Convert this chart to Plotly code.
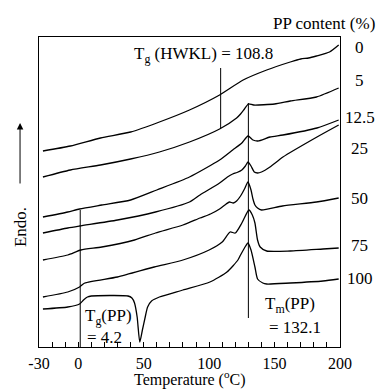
import plotly.graph_objects as go

# ---------------- data ----------------
pp_content = ["0", "5", "12.5", "25", "50", "75", "100"]

temp_0 = [-27, -6, 17, 40, 62, 85, 108, 126, 144, 162, 170, 176, 182, 192, 199]
hf_0 = [196, 201, 209, 215, 225, 237, 252, 267, 277, 285, 288, 289, 291, 295, 302]

temp_5 = [-27, -6, 17, 40, 62, 85, 108, 121, 124, 127, 130, 134, 150, 162, 182, 199]
hf_5 = [170, 177, 182, 188, 195, 205, 218, 229, 233, 238, 243, 242, 243, 246, 250, 259]

temp_12 = [-27, -8, 1, 18, 40, 60, 85, 108, 118, 125, 129.7, 133.5, 137.3, 146.5, 156.4, 182.4, 199]
hf_12 = [130, 135, 138, 142, 147, 157, 170, 187, 197, 204, 211, 207, 206, 210, 212, 219, 227]

temp_25 = [-27, -8, 1, 30, 59, 85, 93, 108, 114, 118, 121.3, 125, 127.7, 129.7, 132, 134.5, 137, 140, 146.5, 156.4, 182.4, 199]
hf_25 = [114, 119, 121, 127, 135, 145, 152, 164, 170, 173, 174.5, 177, 181, 185, 181, 175, 174, 175, 180, 190, 210, 222]

temp_50 = [-27, -8, 2, 18, 43, 59, 80, 93, 101, 108, 113, 115.5, 118.5, 121, 124, 127, 129.7, 132, 133.5, 135, 137, 140, 156, 182, 199]
hf_50 = [87, 92, 97, 100, 107, 114, 122, 129, 133, 138, 143, 145, 144, 146, 151, 158, 165, 157, 148, 142, 139, 137, 141, 145, 149]

temp_75 = [-27, -8, 1, 5, 30, 58, 80, 100, 110, 116, 120, 125, 130.4, 133, 135, 137, 139, 144, 162, 187, 199]
hf_75 = [50, 55, 60, 64, 70, 80, 87, 97, 105, 115, 114, 124, 137, 132, 124, 107, 100, 96, 96, 98, 99]

temp_100 = [-27, -8, 1, 4, 7, 10, 38, 41, 43, 45, 47, 49, 51, 53, 56, 62, 80, 100.6, 113.6, 122, 124, 127, 129.7, 132, 135, 137, 141, 144, 162, 187, 199]
hf_100 = [38, 40, 43, 47, 50, 51, 51, 49, 44, 30, 5, 17, 29, 40, 46, 50, 57, 65, 75, 87, 92, 99, 104, 97, 80, 68, 64, 63, 64, 66, 68]

series_temp = [temp_0, temp_5, temp_12, temp_25, temp_50, temp_75, temp_100]
series_hf = [hf_0, hf_5, hf_12, hf_25, hf_50, hf_75, hf_100]

# transition markers: (temperature, lower signal, upper signal)
tg_hwkl_line = (108.8, 219, 279)
tm_pp_line = (130, 29, 244)
tg_pp_line = (1.5, 0, 137)

tick_vals = [-30, 0, 50, 100, 150, 200]
tick_text = ["-30", "0", "50", "100", "150", "200"]

# ---------------- figure ----------------
FONT = "Liberation Serif"
FS = 17
fig = go.Figure()

for t, h, name in zip(series_temp, series_hf, pp_content):
    fig.add_trace(go.Scatter(
        x=t, y=h, mode="lines", name=name,
        line=dict(color="black", width=1.3, shape="spline", smoothing=0.6),
        showlegend=False, hoverinfo="skip"))

for (tx, y0, y1) in [tg_hwkl_line, tm_pp_line, tg_pp_line]:
    fig.add_shape(type="line", xref="x", yref="y", x0=tx, x1=tx, y0=y0, y1=y1,
                  line=dict(color="black", width=1))

def txt(text, x, y, xref="paper", yref="paper", xanchor="center", angle=0, size=FS):
    return dict(text=text, xref=xref, yref=yref, x=x, y=y, showarrow=False,
                xanchor=xanchor, yanchor="middle", textangle=angle,
                font=dict(family=FONT, size=size, color="black"))

# right-hand content labels (vertical positions in signal units)
label_y = [300, 267, 230, 199, 149, 102, 69]
anns = [txt(lab, 1.066, ly, yref="y") for lab, ly in zip(pp_content, label_y)]

anns += [
    txt("PP content (%)", 0.947, 1.045),
    txt("Temperature (<sup>o</sup>C)", 0.502, -0.103, size=16),
    txt("Endo.", -0.063, 0.387, angle=-90),
    dict(text="", xref="paper", yref="paper", x=-0.063, y=0.7226, ax=0, ay=62,
         showarrow=True, arrowhead=2, arrowsize=1.3, arrowwidth=1, arrowcolor="black"),
    txt("T<sub>g</sub> (HWKL) = 108.8", 96, 292, xref="x", yref="y"),
    txt("T<sub>g</sub>(PP)", 3.5, 30, xref="x", yref="y", xanchor="left"),
    txt("= 4.2", 5, 10, xref="x", yref="y", xanchor="left"),
    txt("T<sub>m</sub>(PP)", 141, 42, xref="x", yref="y", xanchor="left"),
    txt("= 132.1", 144, 20, xref="x", yref="y", xanchor="left"),
]

fig.update_layout(
    width=379, height=390,
    margin=dict(l=39, r=39, t=37, b=43),
    paper_bgcolor="white", plot_bgcolor="white",
    annotations=anns,
    xaxis=dict(range=[-30, 200], tickmode="array", tickvals=tick_vals, ticktext=tick_text,
               ticks="inside", ticklen=5, tickcolor="black", tickwidth=1,
               minor=dict(dtick=10, tick0=0, ticks="inside", ticklen=5, tickcolor="black"),
               showline=True, linecolor="black", linewidth=1, mirror=True,
               showgrid=False, zeroline=False, ticklabelstandoff=2,
               tickfont=dict(family=FONT, size=16, color="black")),
    yaxis=dict(range=[0, 310], showticklabels=False, ticks="",
               showline=True, linecolor="black", linewidth=1, mirror=True,
               showgrid=False, zeroline=False),
)

fig.write_html("out.html", config={"displayModeBar": False},
               post_script="document.body.style.margin='0';document.body.style.overflow='hidden';")
